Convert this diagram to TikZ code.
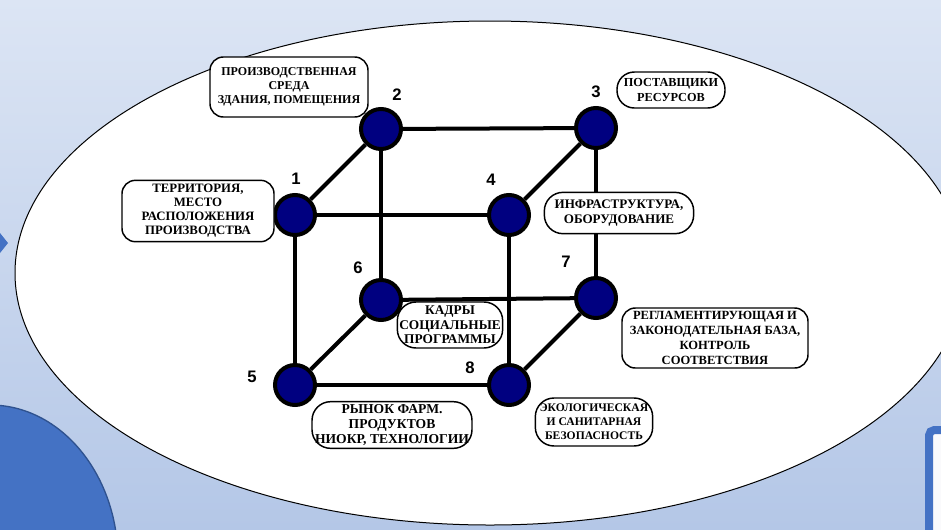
\documentclass[tikz,border=0pt]{standalone}
\usepackage{fontspec}
\setmainfont{Liberation Serif}
\newfontfamily\digitfont{Liberation Sans}
\tikzset{every picture/.style={line width=0.75pt}}
\tikzset{
  vertex/.style={circle, draw=black, line width=3pt, fill={rgb, 255:red, 0; green, 0; blue, 128}, minimum size=30pt, inner sep=0pt},
  edge/.style={line width=3pt},
  factor/.style 2 args={draw=black, fill=white, rounded corners=10pt, line width=1.1pt, align=center, inner sep=0pt, font=\bfseries\fontsize{#1}{#2}\selectfont},
  num/.style={inner sep=0pt, font=\digitfont\bfseries\fontsize{12.5}{14}\selectfont}
}

\begin{document}
\begin{tikzpicture}[x=0.75pt,y=0.75pt,yscale=-1,xscale=1]
\useasboundingbox (0,0) rectangle (941,529);
\clip (0,0) rectangle (941,529);

%Background
\shade [top color={rgb, 255:red, 220; green, 229; blue, 244}, bottom color={rgb, 255:red, 180; green, 199; blue, 231}] (0,0) rectangle (941,529);
%Shape: Ellipse
\draw [fill=white] (490,273) ellipse [x radius=475, y radius=252];
%Shape: Ellipse (bottom left)
\draw [color={rgb, 255:red, 47; green, 82; blue, 143}, fill={rgb, 255:red, 68; green, 114; blue, 196}, line width=1pt] (-10,560) ellipse [x radius=128, y radius=155];
%Shape: Triangle
\fill [fill={rgb, 255:red, 68; green, 114; blue, 196}] (0,233) -- (8,243) -- (0,253) -- cycle;
%Shape: Rectangle (bottom right)
\draw [color={rgb, 255:red, 68; green, 114; blue, 196}, fill={rgb, 255:red, 250; green, 250; blue, 252}, line width=6pt, rounded corners=4pt] (929,430) rectangle (980,560);

% Vertices
\node [vertex] (n1) at (295,215) {};
\node [vertex] (n2) at (381,129) {};
\node [vertex] (n3) at (596,128) {};
\node [vertex] (n4) at (509,215) {};
\node [vertex] (n5) at (295,385) {};
\node [vertex] (n6) at (381,300) {};
\node [vertex] (n7) at (596,298) {};
\node [vertex] (n8) at (509,385) {};

% Edges
\draw [edge] (n1) -- (n2);
\draw [edge] (n2) -- (n3);
\draw [edge] (n3) -- (n4);
\draw [edge] (n1) -- (n4);
\draw [edge] (n1) -- (n5);
\draw [edge] (n4) -- (n8);
\draw [edge] (n5) -- (n8);
\draw [edge] (n2) -- (n6);
\draw [edge] (n6) -- (n7);
\draw [edge] (n3) -- (n7);
\draw [edge] (n5) -- (n6);
\draw [edge] (n7) -- (n8);

% Numbers
\node [num] (l1) at (296,179) {1};
\node [num] (l2) at (397,95) {2};
\node [num] (l3) at (596,92) {3};
\node [num] (l4) at (491,180) {4};
\node [num] (l5) at (252,377) {5};
\node [num] (l6) at (358,268) {6};
\node [num] (l7) at (566,262) {7};
\node [num] (l8) at (470,368) {8};

% Text Nodes
\node [factor={9}{10.6}, minimum width=118.5pt, minimum height=45pt] (sreda) at (289,87) {ПРОИЗВОДСТВЕННАЯ\\СРЕДА\\ЗДАНИЯ, ПОМЕЩЕНИЯ};
\node [factor={9.2}{10.8}, minimum width=81pt, minimum height=27pt, rounded corners=13pt] (postav) at (671,90) {ПОСТАВЩИКИ\\РЕСУРСОВ};
\node [factor={9.6}{10.5}, minimum width=114pt, minimum height=46pt] (territ) at (198,211) {ТЕРРИТОРИЯ,\\МЕСТО\\РАСПОЛОЖЕНИЯ\\ПРОИЗВОДСТВА};
\node [factor={9.8}{11}, minimum width=112pt, minimum height=31pt, rounded corners=14pt] (infra) at (619,213) {ИНФРАСТРУКТУРА,\\ОБОРУДОВАНИЕ};
\node [factor={10}{10.9}, minimum width=79pt, minimum height=34.5pt, rounded corners=14pt] (kadry) at (450,325) {КАДРЫ\\СОЦИАЛЬНЫЕ\\ПРОГРАММЫ};
\node [factor={9.4}{11.2}, minimum width=139.5pt, minimum height=45pt] (reglam) at (715,338) {РЕГЛАМЕНТИРУЮЩАЯ И\\ЗАКОНОДАТЕЛЬНАЯ БАЗА,\\КОНТРОЛЬ\\СООТВЕТСТВИЯ};
\node [factor={10.2}{11.2}, minimum width=120pt, minimum height=35pt, rounded corners=14pt] (rynok) at (392,425) {РЫНОК ФАРМ.\\ПРОДУКТОВ\\НИОКР, ТЕХНОЛОГИИ};
\node [factor={8.7}{10.6}, minimum width=88pt, minimum height=36pt, rounded corners=14pt] (ekolog) at (594,422) {ЭКОЛОГИЧЕСКАЯ\\И САНИТАРНАЯ\\БЕЗОПАСНОСТЬ};

\end{tikzpicture}
\end{document}
